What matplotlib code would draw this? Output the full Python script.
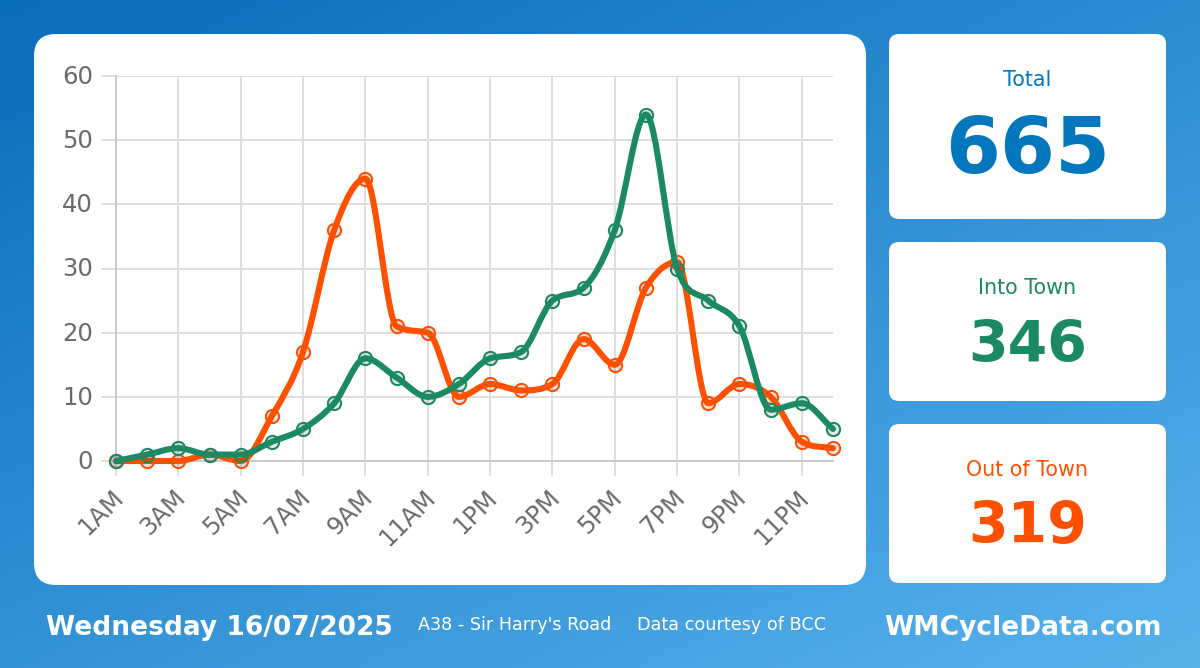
"""Daily cycle counter card: hourly counts in each direction plus totals."""

import matplotlib

matplotlib.use("Agg")
import matplotlib.pyplot as plt
import numpy as np
from matplotlib.patches import FancyBboxPatch, PathPatch
from matplotlib.path import Path
from matplotlib.transforms import Affine2D

hours = [
    "1AM", "2AM", "3AM", "4AM", "5AM", "6AM", "7AM", "8AM", "9AM", "10AM", "11AM", "12PM",
    "1PM", "2PM", "3PM", "4PM", "5PM", "6PM", "7PM", "8PM", "9PM", "10PM", "11PM", "12AM",
]
into_town = [0, 1, 2, 1, 1, 3, 5, 9, 16, 13, 10, 12, 16, 17, 25, 27, 36, 54, 30, 25, 21, 8, 9, 5]
out_of_town = [0, 0, 0, 1, 0, 7, 17, 36, 44, 21, 20, 10, 12, 11, 12, 19, 15, 27, 31, 9, 12, 10, 3, 2]
y_ticks = [0, 10, 20, 30, 40, 50, 60]

total_label, total_value = "Total", "665"
into_label, into_value = "Into Town", "346"
out_label, out_value = "Out of Town", "319"
date_text = "Wednesday 16/07/2025"
site_text = "A38 - Sir Harry's Road"
credit_text = "Data courtesy of BCC"
brand_text = "WMCycleData.com"

BLUE = "#0277bd"
GREEN = "#1b8a62"
ORANGE = "#ff5000"
GREY = "#6a6a6a"
GRID = "#dfdfdf"
AXIS_LINE = "#c9c9c9"
W, H = 1200, 668


def monotone_path(xs, ys):
    """Monotone cubic through the points, returned as a bezier Path."""
    xs = np.asarray(xs, dtype=float)
    ys = np.asarray(ys, dtype=float)
    delta = np.diff(ys) / np.diff(xs)
    m = np.zeros(len(xs))
    m[0], m[-1] = delta[0], delta[-1]
    for i in range(1, len(xs) - 1):
        if delta[i - 1] * delta[i] > 0:
            m[i] = (delta[i - 1] + delta[i]) / 2
    for i in range(len(delta)):
        if delta[i] == 0:
            m[i] = m[i + 1] = 0
            continue
        a, b = m[i] / delta[i], m[i + 1] / delta[i]
        s = a * a + b * b
        if s > 9:
            t = 3 / np.sqrt(s)
            m[i], m[i + 1] = t * a * delta[i], t * b * delta[i]
    verts = [(xs[0], ys[0])]
    codes = [Path.MOVETO]
    for i in range(len(delta)):
        h = (xs[i + 1] - xs[i]) / 3
        verts += [
            (xs[i] + h, ys[i] + h * m[i]),
            (xs[i + 1] - h, ys[i + 1] - h * m[i + 1]),
            (xs[i + 1], ys[i + 1]),
        ]
        codes += [Path.CURVE4] * 3
    return Path(verts, codes)


def add_card(ax, x0, y0, x1, y1, radius):
    ax.add_patch(
        FancyBboxPatch(
            (x0 + radius, y0 + radius),
            x1 - x0 - 2 * radius,
            y1 - y0 - 2 * radius,
            boxstyle=f"round,pad={radius},rounding_size={radius}",
            fc="white",
            ec="none",
        )
    )


def draw_series(ax, xs, ys, color, z):
    ax.plot(
        xs, ys, "o", ms=9.5, mfc=(0, 0, 0, 0.1), mec=color, mew=1.5,
        clip_on=False, zorder=z,
    )
    ax.add_patch(
        PathPatch(
            monotone_path(xs, ys), fc="none", ec=color, lw=4.4,
            capstyle="round", joinstyle="round", clip_on=False, zorder=z + 0.1,
        )
    )


plt.rcParams["font.family"] = "DejaVu Sans"
fig = plt.figure(figsize=(W / 100, H / 100), dpi=100)

# page background and cards, drawn in pixel coordinates
bg = fig.add_axes([0, 0, 1, 1])
bg.axis("off")
gx, gy = np.meshgrid(np.linspace(0, W, 300), np.linspace(0, H, 200))
grad = (0.42 * gx + 0.906 * gy) / (0.42 * W + 0.906 * H)
c0 = np.array([0x07, 0x6c, 0xba]) / 255
c1 = np.array([0x58, 0xb2, 0xec]) / 255
bg.imshow(
    c0 + (c1 - c0) * grad[..., None],
    extent=(0, W, H, 0),
    aspect="auto",
    interpolation="bilinear",
)
bg.set_xlim(0, W)
bg.set_ylim(H, 0)

add_card(bg, 34, 34, 866, 585, 22)
add_card(bg, 889, 34, 1166, 219, 10)
add_card(bg, 889, 242, 1166, 401, 10)
add_card(bg, 889, 424, 1166, 583, 10)

cx = 1027.5
bg.text(cx, 80, total_label, color=BLUE, fontsize=14.9, ha="center", va="center")
bg.text(cx, 151, total_value, color=BLUE, fontsize=57, fontweight="bold", ha="center", va="center")
bg.text(cx, 288, into_label, color=GREEN, fontsize=14.9, ha="center", va="center")
bg.text(cx, 346, into_value, color=GREEN, fontsize=41, fontweight="bold", ha="center", va="center")
bg.text(cx, 470, out_label, color=ORANGE, fontsize=14.9, ha="center", va="center")
bg.text(cx, 528, out_value, color=ORANGE, fontsize=41, fontweight="bold", ha="center", va="center")

bg.text(46, 628, date_text, color="white", fontsize=19.1, fontweight="bold", ha="left", va="center")
bg.text(418, 625, site_text, color="white", fontsize=12.6, ha="left", va="center")
bg.text(637, 625, credit_text, color="white", fontsize=12.7, ha="left", va="center")
bg.text(1162, 628, brand_text, color="white", fontsize=19.1, fontweight="bold", ha="right", va="center")

# chart area: 1AM at x=116, 12AM at x=833, 60 at y=76, 0 at y=461
ax = fig.add_axes([116 / W, 1 - 461 / H, (833 - 116) / W, (461 - 76) / H])
ax.patch.set_alpha(0)
x = np.arange(len(hours))
ax.set_xlim(0, len(hours) - 1)
ax.set_ylim(0, 60)
for side in ["top", "right"]:
    ax.spines[side].set_visible(False)
for side in ["left", "bottom"]:
    ax.spines[side].set_color(AXIS_LINE)
    ax.spines[side].set_linewidth(1.4)
ax.set_axisbelow(True)
ax.grid(True, color=GRID, lw=1.4)
ax.set_yticks(y_ticks)
ax.set_xticks(x[::2])
ax.set_xticklabels(hours[::2], rotation=45, ha="right", rotation_mode="anchor")
ax.tick_params(axis="x", length=11, width=1.4, color=GRID, labelcolor=GREY, labelsize=17.5, pad=3)
ax.tick_params(axis="y", length=11, width=1.4, color=GRID, labelcolor=GREY, labelsize=17.5, pad=5.5)
for label in ax.get_xticklabels():
    label.set_transform(label.get_transform() + Affine2D().translate(-5, -5))
for label in ax.get_yticklabels():
    label.set_transform(label.get_transform() + Affine2D().translate(0, 1.5))

draw_series(ax, x, out_of_town, ORANGE, 3)
draw_series(ax, x, into_town, GREEN, 4)

fig.savefig("out.png", dpi=100)
